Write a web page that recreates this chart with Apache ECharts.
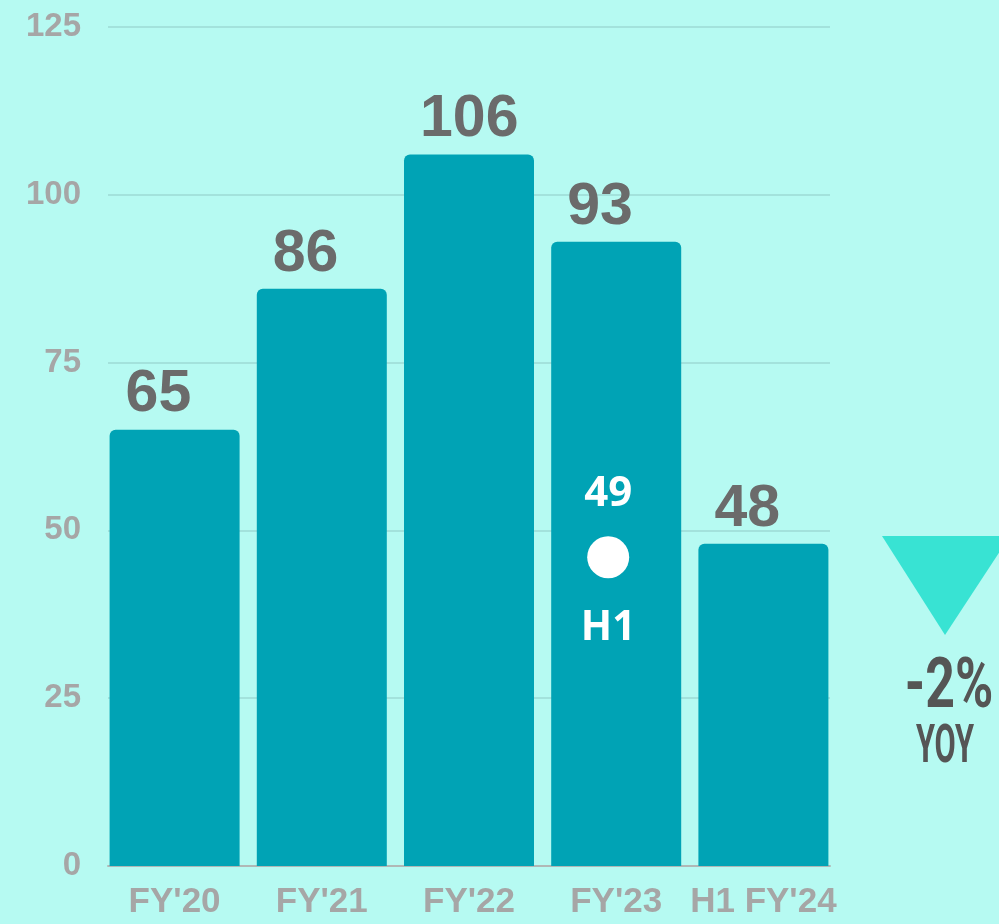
<!DOCTYPE html>
<html>
<head>
<meta charset="utf-8">
<script src="https://cdn.jsdelivr.net/npm/echarts@6/dist/echarts.min.js"></script>
<style>
  html, body { margin: 0; padding: 0; background: #b6faf2; }
  #chart { width: 999px; height: 924px; }
</style>
</head>
<body>
<div id="chart"></div>
<script>
const categories = ["FY'20", "FY'21", "FY'22", "FY'23", "H1 FY'24"]
const revenue = [65, 86, 106, 93, 48]
const h1Marker = 46 // where the dot sits on the FY'23 bar
const h1Label = '49'
const yoyText = '-2%'

const chart = echarts.init(document.getElementById('chart'))

const labelFont = {
  fontFamily: 'Liberation Sans',
  fontWeight: 'bold',
}

const options = {
  backgroundColor: '#b6faf2',
  animation: false,
  grid: [
    // grid 0: gridlines and y labels
    { left: 108, right: 169, top: 27, bottom: 58 },
    // grid 1: bars (slightly wider so bars sit flush with the gridline ends)
    { left: 101, right: 162, top: 27, bottom: 58 },
  ],
  xAxis: [
    {
      gridIndex: 0,
      type: 'category',
      data: categories,
      axisTick: { show: false },
      axisLabel: { show: false },
      axisLine: { lineStyle: { color: '#b0b8b6', width: 2 } },
    },
    {
      gridIndex: 1,
      type: 'category',
      data: categories,
      axisTick: { show: false },
      axisLine: { show: false },
      axisLabel: {
        ...labelFont,
        color: '#a6a6a6',
        fontSize: 35,
        margin: 19,
        interval: 0,
      },
    },
  ],
  yAxis: [
    {
      gridIndex: 0,
      type: 'value',
      min: 0,
      max: 125,
      interval: 25,
      axisLine: { show: false },
      axisTick: { show: false },
      splitLine: { lineStyle: { color: '#a3e2dc', width: 2 } },
      axisLabel: {
        ...labelFont,
        color: '#a6a6a6',
        fontSize: 33,
        margin: 27,
      },
    },
    {
      gridIndex: 1,
      type: 'value',
      min: 0,
      max: 125,
      interval: 25,
      show: false,
    },
  ],
  series: [
    {
      name: 'revenue',
      type: 'bar',
      xAxisIndex: 1,
      yAxisIndex: 1,
      data: revenue,
      barWidth: 130,
      itemStyle: {
        color: '#00a3b5',
        borderRadius: [6, 6, 0, 0],
      },
      label: {
        ...labelFont,
        show: true,
        position: [16, -5],
        align: 'left',
        verticalAlign: 'bottom',
        color: '#6b6b6b',
        fontSize: 59,
      },
    },
    {
      name: 'h1',
      type: 'scatter',
      xAxisIndex: 1,
      yAxisIndex: 1,
      data: [[categories[3], h1Marker]],
      symbol: 'circle',
      symbolSize: 42,
      symbolOffset: [-8, 0],
      itemStyle: { color: '#ffffff', opacity: 1 },
      label: {
        show: true,
        position: 'top',
        distance: 21,
        formatter: h1Label,
        color: '#ffffff',
        fontFamily: 'Open Sans',
        fontWeight: 'bold',
        fontSize: 42,
      },
      z: 5,
    },
    {
      name: 'h1tag',
      type: 'scatter',
      xAxisIndex: 1,
      yAxisIndex: 1,
      data: [[categories[3], h1Marker]],
      symbolSize: 42,
      itemStyle: { color: 'rgba(0,0,0,0)', opacity: 1 },
      label: {
        show: true,
        position: 'bottom',
        distance: 30,
        offset: [-8, 0],
        formatter: 'H1',
        color: '#ffffff',
        fontFamily: 'Open Sans',
        fontWeight: 'bold',
        fontSize: 41,
      },
      z: 5,
    },
  ],
  graphic: [
    {
      type: 'polygon',
      shape: { points: [[882, 536], [1010, 536], [945, 635]] },
      style: { fill: '#38e3d3' },
    },
    {
      type: 'text',
      x: 949,
      y: 689,
      scaleX: 0.74,
      style: {
        text: yoyText,
        fill: '#555555',
        font: 'bold 70px Roboto',
        align: 'center',
        verticalAlign: 'middle',
      },
    },
    {
      type: 'text',
      x: 945,
      y: 749,
      scaleX: 0.58,
      style: {
        text: 'YOY',
        fill: '#555555',
        font: 'bold 53px Roboto',
        align: 'center',
        verticalAlign: 'middle',
      },
    },
  ],
}

chart.setOption(options, true)
</script>
</body>
</html>
